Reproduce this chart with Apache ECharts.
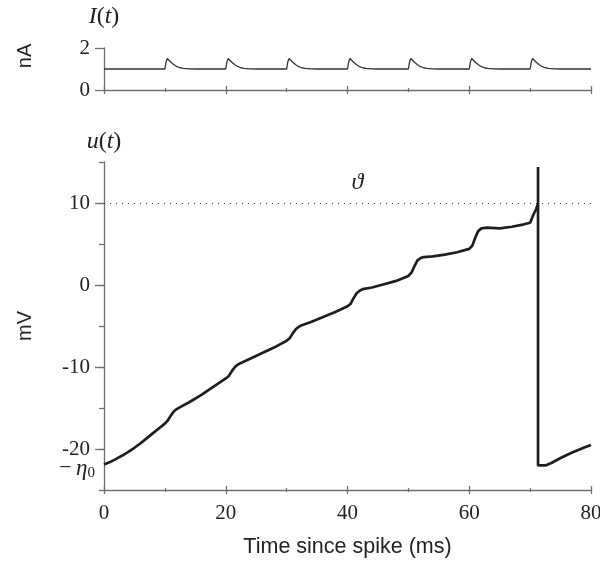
<!DOCTYPE html>
<html><head><meta charset="utf-8">
<script src="https://cdn.jsdelivr.net/npm/echarts@6/dist/echarts.min.js"></script>
<style>html,body{margin:0;padding:0;background:#fff}#c{width:600px;height:567px}</style>
</head><body><div id="c"></div><script>
// ---- data ----
const timeMs = [0,1,2,3,4,5,6,7,8,9,10,10.5,11,11.5,12,12.5,14,16,18,20,20.5,21,21.5,22,22.5,24,26,28,30,30.5,31,31.5,32,32.5,34,36,38,40,40.5,41,41.5,42,42.5,44,46,48,50,50.5,51,51.5,52,52.5,54,56,58,60,60.5,61,61.5,62,63,65,67,69,70,70.5,71,71.3,71.3,71.3,72.5,73.5,75,77,79,80];
const voltageMv = [-21.9,-21.6,-21.2,-20.8,-20.35,-19.85,-19.3,-18.7,-18.1,-17.5,-16.9,-16.5,-15.9,-15.4,-15.1,-14.9,-14.3,-13.4,-12.4,-11.4,-11.1,-10.5,-10.0,-9.7,-9.5,-9.0,-8.3,-7.6,-6.8,-6.5,-5.9,-5.4,-5.1,-4.9,-4.5,-3.9,-3.3,-2.6,-2.3,-1.6,-1.0,-0.7,-0.5,-0.3,0.1,0.5,1.1,1.5,2.3,3.0,3.3,3.4,3.5,3.7,4.0,4.4,4.8,5.8,6.6,6.9,7.0,6.9,7.1,7.4,7.6,8.5,9.3,9.9,14.4,-22.0,-22.0,-21.7,-21.1,-20.4,-19.8,-19.5];
const currentTime = [0,
 10,10.2,10.4,10.7,11,11.5,12,12.5,13,14,15,
 20,20.2,20.4,20.7,21,21.5,22,22.5,23,24,25,
 30,30.2,30.4,30.7,31,31.5,32,32.5,33,34,35,
 40,40.2,40.4,40.7,41,41.5,42,42.5,43,44,45,
 50,50.2,50.4,50.7,51,51.5,52,52.5,53,54,55,
 60,60.2,60.4,60.7,61,61.5,62,62.5,63,64,65,
 70,70.2,70.4,70.7,71,71.5,72,72.5,73,74,75,
 80];
const currentNa = [1,
 1,1.35,1.5,1.42,1.32,1.2,1.11,1.06,1.03,1.01,1,
 1,1.35,1.5,1.42,1.32,1.2,1.11,1.06,1.03,1.01,1,
 1,1.35,1.5,1.42,1.32,1.2,1.11,1.06,1.03,1.01,1,
 1,1.35,1.5,1.42,1.32,1.2,1.11,1.06,1.03,1.01,1,
 1,1.35,1.5,1.42,1.32,1.2,1.11,1.06,1.03,1.01,1,
 1,1.35,1.5,1.42,1.32,1.2,1.11,1.06,1.03,1.01,1,
 1,1.35,1.5,1.42,1.32,1.2,1.11,1.06,1.03,1.01,1,
 1];
const xTickLabels = [0,20,40,60,80];
const uTickLabels = [-20,-10,0,10];
const iTickLabels = [0,2];
const thresholdMv = 10;
const resetMv = -22.4;

// ---- styling ----
const AX = '#707070';
const SERIF = 'Liberation Serif';
const SANS = 'Liberation Sans';
const TICKFS = 21;
const mathRich = {
  i:{fontFamily:SERIF,fontStyle:'italic',fontSize:24,color:'#222'},
  r:{fontFamily:SERIF,fontSize:24,color:'#222'},
  m:{fontFamily:SERIF,fontSize:22,color:'#222'},
  e:{fontFamily:SERIF,fontStyle:'italic',fontSize:23,color:'#222'},
  s:{fontFamily:SERIF,fontSize:15,color:'#222',verticalAlign:'bottom',padding:[9,0,0,0]}
};
function xAx(grid, inside, labels, name){
  return {
    gridIndex:grid, type:'value', min:0, max:80, interval:20, position:'bottom',
    axisLine:{show:!inside, onZero:false, lineStyle:{color:AX,width:1.3}},
    axisTick:{show:true, inside:inside, length:4, lineStyle:{color:AX,width:1.3}},
    minorTick:{show:true, splitNumber:2, length:2, lineStyle:{color:AX,width:1.2}},
    axisLabel:{show:labels, customValues:xTickLabels, margin:13, fontFamily:SERIF, fontSize:TICKFS, color:'#222'},
    splitLine:{show:false}, minorSplitLine:{show:false},
    name: name||'', nameLocation:'middle', nameGap:46,
    nameTextStyle:{fontFamily:SANS,fontSize:21.5,color:'#222'}
  };
}
const option = {
  animation:false,
  backgroundColor:'#fff',
  grid:[
    {left:104, right:9, top:48, height:42, outerBoundsMode:'none', containLabel:false},
    {left:104, right:9, top:162, bottom:77, outerBoundsMode:'none', containLabel:false}
  ],
  xAxis:[ xAx(0,false,false), xAx(0,true,false), xAx(1,false,true,'Time since spike (ms)'), xAx(1,true,false) ],
  yAxis:[
    {gridIndex:0, type:'value', position:'left', min:0, max:2, interval:2,
     axisLine:{show:true,onZero:false,lineStyle:{color:AX,width:1.3}},
     axisTick:{show:true,length:9,lineStyle:{color:AX,width:1.3}},
     axisLabel:{customValues:iTickLabels, margin:14, fontFamily:SERIF, fontSize:TICKFS, color:'#222'},
     splitLine:{show:false},
     name:'{i|I}{r|(}{i|t}{r|)}', nameLocation:'end', nameGap:19,
     nameTextStyle:{rich:mathRich, align:'center'}},
    {gridIndex:0, type:'value', position:'left', min:0, max:2,
     axisLine:{show:false,onZero:false}, axisTick:{show:false}, axisLabel:{show:false}, splitLine:{show:false},
     name:'nA', nameLocation:'middle', nameGap:69,
     nameTextStyle:{fontFamily:SANS,fontSize:20,color:'#222',padding:[0,0,0,26]}},
    {gridIndex:1, type:'value', position:'left', min:-25, max:15, interval:5,
     axisLine:{show:true,onZero:false,lineStyle:{color:AX,width:1.3}},
     axisTick:{show:true,length:5,lineStyle:{color:AX,width:1.3}},
     axisLabel:{customValues:uTickLabels, margin:14, fontFamily:SERIF, fontSize:TICKFS, color:'#222'},
     splitLine:{show:false},
     name:'{i|u}{r|(}{i|t}{r|)}', nameLocation:'end', nameGap:8,
     nameTextStyle:{rich:mathRich, align:'center'}},
    {gridIndex:1, type:'value', position:'left', min:-25, max:15,
     axisLine:{show:false,onZero:false},
     axisTick:{show:true,length:9,customValues:uTickLabels,lineStyle:{color:AX,width:1.3}},
     axisLabel:{show:false}, splitLine:{show:false},
     name:'mV', nameLocation:'middle', nameGap:69,
     nameTextStyle:{fontFamily:SANS,fontSize:20,color:'#222'}},
    {gridIndex:1, type:'value', position:'left', min:-25, max:15,
     axisLine:{show:false,onZero:false}, axisTick:{show:false}, splitLine:{show:false},
     axisLabel:{customValues:[resetMv], margin:9,
       formatter:function(){return '{m|\u2212\u2009}{e|\u03b7}{s|0}';}, rich:mathRich}}
  ],
  series:[
    {type:'line', xAxisIndex:0, yAxisIndex:0, showSymbol:false, silent:true,
     data: currentTime.map((t,i)=>[t,currentNa[i]]),
     lineStyle:{color:'#333',width:1.3}},
    {type:'line', xAxisIndex:2, yAxisIndex:2, showSymbol:false, silent:true,
     data: timeMs.map((t,i)=>[t,voltageMv[i]]),
     lineStyle:{color:'#1e1e1e',width:2.7},
     markLine:{silent:true, symbol:'none', animation:false,
       lineStyle:{type:[1,5],color:'#333',width:1.2},
       label:{show:true, position:'insideMiddleTop', distance:8, offset:[10,0], formatter:'{i|\u03d1}', rich:mathRich},
       data:[{yAxis:thresholdMv}]}}
  ]
};
const chart = echarts.init(document.getElementById('c'), null, {renderer:'canvas'});
chart.setOption(option);
</script></body></html>
